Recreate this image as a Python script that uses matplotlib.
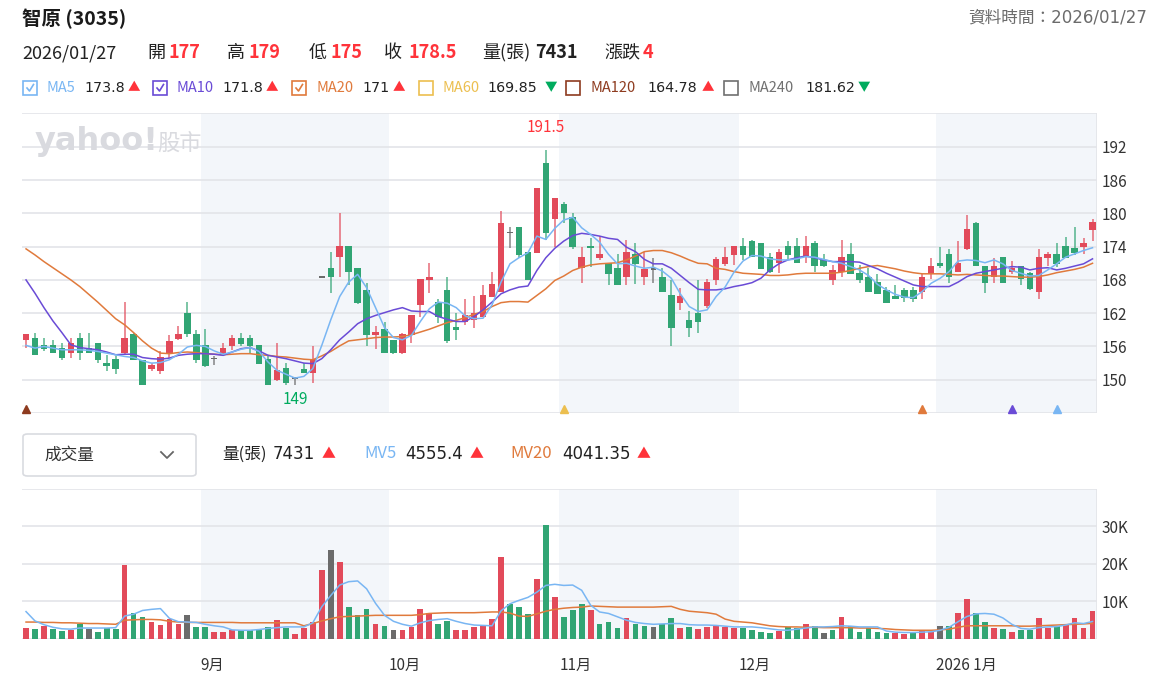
import matplotlib
matplotlib.use("Agg")
import matplotlib.pyplot as plt
import matplotlib.patches as mpatches
from matplotlib.lines import Line2D

plt.rcParams['font.family'] = ['Noto Sans CJK TC', 'DejaVu Sans']
NUM_FONT = ['DejaVu Sans', 'Noto Sans CJK TC']

# ---------------- data ----------------
opens = [157.1, 157.6, 156.2, 156.2, 155.8, 154.9, 157.5, 155.7, 156.6, 153.0,
         153.7, 154.9, 158.3, 153.6, 152.0, 151.5, 154.9, 157.4, 162.0, 158.2,
         156.2, 153.8, 154.6, 156.0, 157.6, 157.6, 156.2, 153.8, 150.0, 152.1,
         150.3, 151.9, 151.2, 168.5, 170.1, 172.1, 174.2, 170.2, 166.1, 158.0,
         159.1, 157.1, 154.8, 158.1, 163.5, 168.0, 164.1, 166.1, 159.5, 160.5,
         160.8, 161.4, 165.0, 165.9, 176.6, 177.6, 173.1, 172.9, 189.1, 179.0,
         181.6, 179.3, 170.1, 174.2, 172.0, 171.0, 170.1, 168.5, 172.6, 168.5,
         170.0, 168.6, 165.2, 163.9, 160.7, 162.0, 163.3, 168.0, 170.9, 172.5,
         174.2, 175.1, 174.6, 172.2, 171.0, 174.2, 174.2, 172.2, 174.6, 171.6,
         168.0, 169.5, 172.7, 169.2, 168.6, 167.7, 166.1, 165.1, 166.1, 166.2,
         165.9, 169.1, 171.0, 172.6, 169.5, 173.5, 178.2, 170.5, 168.5, 172.1,
         169.5, 170.5, 169.3, 165.9, 172.0, 172.6, 174.2, 173.7, 174.0, 177.0]
highs = [158.2, 158.4, 157.6, 157.1, 156.6, 157.6, 158.4, 158.4, 156.6, 154.5,
         154.2, 164.1, 158.4, 153.6, 153.0, 155.1, 158.1, 159.6, 164.1, 159.0,
         159.1, 154.2, 156.6, 158.0, 158.4, 158.0, 156.2, 154.2, 156.6, 153.0,
         150.3, 153.0, 156.0, 168.5, 173.1, 180.1, 174.2, 170.2, 167.5, 159.6,
         160.4, 157.1, 158.4, 161.6, 168.1, 171.1, 164.6, 168.6, 162.0, 164.5,
         165.1, 167.0, 169.4, 180.5, 177.5, 177.6, 173.1, 184.6, 191.5, 182.8,
         182.1, 180.1, 174.0, 175.5, 175.9, 171.0, 172.6, 175.2, 174.6, 173.1,
         171.9, 170.1, 168.0, 166.5, 162.4, 168.0, 168.1, 172.1, 174.0, 174.2,
         175.6, 175.2, 174.7, 172.8, 173.5, 175.1, 175.5, 176.0, 175.0, 172.7,
         170.6, 175.2, 174.6, 170.6, 170.1, 169.1, 166.8, 167.0, 166.5, 166.7,
         169.1, 171.9, 174.0, 173.5, 175.1, 179.7, 178.5, 170.5, 171.9, 172.1,
         171.5, 170.5, 169.5, 173.5, 173.1, 174.6, 175.7, 177.6, 175.5, 179.0]
lows = [155.7, 154.5, 155.1, 154.8, 153.5, 154.0, 153.5, 154.9, 153.1, 151.5,
        151.1, 154.5, 153.5, 149.1, 151.5, 151.1, 154.0, 157.2, 157.7, 153.1,
        152.3, 152.7, 154.2, 155.4, 156.0, 154.8, 152.9, 149.0, 149.7, 149.1,
        149.0, 151.2, 149.5, 168.5, 165.7, 168.6, 167.1, 163.7, 156.0, 155.6,
        154.8, 154.7, 154.7, 156.7, 161.3, 165.7, 160.2, 156.6, 157.2, 159.9,
        159.3, 161.4, 165.0, 165.9, 173.7, 171.9, 168.0, 172.9, 175.2, 174.0,
        178.3, 173.5, 167.5, 170.4, 171.6, 167.1, 167.1, 167.1, 167.3, 167.1,
        167.5, 165.9, 156.0, 162.6, 157.7, 158.5, 162.9, 167.1, 170.5, 170.7,
        171.6, 172.1, 170.0, 169.2, 169.2, 171.7, 171.0, 171.1, 169.5, 170.4,
        167.1, 168.6, 169.1, 167.4, 165.9, 165.5, 163.9, 164.6, 164.1, 164.1,
        164.6, 168.1, 170.2, 167.5, 169.5, 173.4, 170.5, 165.7, 167.5, 167.5,
        169.1, 167.1, 166.2, 164.6, 170.5, 170.4, 172.0, 172.5, 172.7, 175.0]
closes = [158.2, 154.5, 155.6, 154.9, 154.0, 156.6, 154.9, 154.9, 153.5, 152.5,
          152.0, 157.6, 153.6, 149.1, 152.6, 154.1, 157.0, 158.2, 158.2, 153.5,
          152.4, 153.8, 155.7, 157.5, 156.5, 156.0, 152.9, 149.1, 151.7, 149.5,
          150.3, 151.2, 153.7, 168.5, 168.5, 174.2, 169.5, 163.9, 158.1, 158.6,
          154.9, 154.9, 158.2, 161.6, 168.1, 168.6, 161.4, 157.0, 159.0, 161.6,
          162.0, 165.2, 167.3, 178.3, 176.6, 172.5, 168.0, 184.6, 176.5, 182.8,
          180.0, 174.0, 172.2, 173.7, 172.7, 169.1, 167.1, 173.1, 170.9, 170.0,
          170.0, 165.9, 159.4, 165.1, 159.4, 160.5, 167.7, 171.7, 172.2, 174.2,
          172.5, 172.1, 170.0, 169.5, 173.0, 172.5, 171.1, 174.2, 170.5, 170.5,
          169.7, 172.2, 169.1, 168.0, 165.9, 165.5, 163.9, 164.6, 164.7, 164.5,
          168.6, 170.5, 170.5, 168.5, 171.0, 177.1, 170.5, 167.5, 170.5, 167.5,
          170.1, 168.1, 166.3, 172.1, 172.6, 170.9, 172.0, 172.8, 174.6, 178.5]

ma5 = [156.2, 155.7, 156.0, 155.7, 155.4, 155.4, 155.4, 155.3, 155.1, 154.8,
       154.5, 154.2, 154.0, 153.4, 153.0, 153.1, 153.6, 154.6, 155.9, 156.2,
       156.0, 155.2, 154.6, 155.0, 155.5, 155.8, 155.1, 153.2, 151.7, 151.0,
       150.3, 150.6, 152.0, 156.2, 160.8, 165.0, 167.6, 169.0, 166.6, 163.0,
       159.4, 157.6, 157.2, 158.0, 160.5, 162.8, 164.0, 163.8, 163.0, 161.5,
       161.0, 161.1, 163.5, 167.6, 170.9, 172.0, 172.9, 175.9, 175.3, 177.3,
       178.8, 179.3, 177.4, 176.2, 174.8, 172.6, 170.9, 171.0, 170.5, 170.1,
       170.3, 169.6, 168.3, 165.5, 163.2, 162.3, 162.6, 165.0, 166.7, 169.4,
       171.4, 172.4, 172.3, 171.8, 171.6, 171.6, 171.8, 172.2, 172.1, 171.7,
       171.3, 171.0, 170.4, 169.8, 168.8, 167.2, 166.2, 165.4, 164.9, 164.8,
       165.9, 167.4, 168.3, 169.5, 171.4, 171.6, 171.5, 171.1, 171.6, 170.9,
       169.7, 169.2, 168.7, 168.8, 169.8, 170.9, 172.1, 172.7, 173.3, 173.8]
ma10 = [168.0, 165.6, 163.0, 160.6, 158.5, 156.3, 155.8, 155.6, 155.4, 155.0,
        154.5, 154.6, 154.6, 154.0, 153.8, 153.7, 153.9, 154.4, 154.6, 154.7,
        154.7, 154.6, 154.4, 155.0, 155.6, 155.8, 155.2, 154.4, 154.1, 153.8,
        153.4, 153.0, 152.9, 153.8, 155.4, 157.2, 158.6, 160.1, 161.0, 161.6,
        162.1, 162.6, 163.0, 162.4, 162.3, 162.3, 161.4, 160.9, 160.5, 160.5,
        161.4, 162.6, 164.0, 165.5, 166.2, 166.7, 166.9, 169.7, 172.0, 173.7,
        175.0, 176.0, 176.4, 176.2, 175.9, 175.5, 175.3, 173.9, 173.1, 171.7,
        170.9, 170.9, 170.1, 168.8, 167.5, 166.3, 166.2, 166.2, 166.4, 166.8,
        167.1, 167.5, 168.3, 169.8, 170.9, 171.6, 172.0, 172.3, 172.0, 171.6,
        171.3, 171.3, 171.3, 171.2, 170.6, 170.0, 169.2, 168.5, 167.8, 167.1,
        166.8, 166.8, 166.8, 166.8, 167.6, 168.6, 169.2, 169.5, 169.8, 170.1,
        170.4, 170.3, 169.8, 170.1, 170.2, 169.8, 170.1, 170.5, 170.9, 171.8]
ma20 = [173.6, 172.5, 171.3, 170.2, 169.1, 168.0, 166.8, 165.4, 164.0, 162.5,
        161.0, 159.9, 158.5, 157.0, 155.7, 154.8, 154.7, 154.9, 155.0, 154.9,
        154.7, 154.6, 154.5, 154.6, 154.7, 154.7, 154.5, 154.4, 154.2, 154.1,
        153.9, 153.7, 153.6, 154.3, 155.1, 156.1, 157.0, 157.2, 157.4, 157.6,
        157.7, 157.7, 157.8, 158.1, 158.6, 159.1, 159.7, 160.3, 160.7, 161.2,
        161.8, 162.3, 163.2, 163.9, 164.1, 164.1, 164.0, 165.2, 166.4, 167.9,
        168.7, 169.7, 170.3, 170.7, 170.9, 171.0, 171.1, 171.6, 172.3, 173.1,
        173.3, 173.3, 172.9, 172.3, 171.6, 171.0, 170.9, 170.1, 169.9, 169.5,
        169.2, 169.1, 169.0, 168.8, 168.8, 168.9, 169.1, 169.2, 169.2, 169.2,
        169.2, 169.4, 169.7, 170.1, 170.4, 170.6, 170.3, 170.0, 169.6, 169.3,
        169.1, 169.1, 169.1, 169.0, 168.9, 169.0, 168.9, 168.8, 168.7, 168.7,
        168.6, 168.5, 168.5, 168.6, 168.9, 169.3, 169.6, 169.9, 170.3, 171.0]

# volume in thousands of lots (張)
volume = [2.8, 2.5, 3.3, 2.5, 2.0, 2.4, 3.8, 2.5, 1.8, 2.7,
          2.5, 19.6, 6.7, 5.8, 4.4, 3.6, 5.1, 3.8, 6.2, 3.1,
          3.1, 1.8, 1.8, 2.2, 2.2, 2.2, 2.2, 3.1, 4.9, 2.8,
          1.3, 2.8, 4.4, 18.2, 23.6, 20.4, 8.4, 6.2, 7.8, 3.8,
          3.4, 2.4, 2.4, 3.1, 7.8, 6.8, 3.8, 4.7, 2.4, 2.4,
          3.1, 3.3, 5.1, 21.8, 9.3, 8.4, 6.5, 16.0, 30.5, 11.1,
          5.8, 7.7, 9.3, 7.7, 4.0, 4.4, 2.8, 5.5, 3.8, 3.4,
          3.1, 3.8, 5.5, 2.8, 3.1, 2.5, 3.1, 3.7, 3.1, 2.8,
          2.8, 2.2, 1.8, 1.5, 2.0, 3.1, 2.8, 3.8, 3.3, 1.5,
          2.2, 5.8, 3.3, 1.8, 2.7, 1.8, 1.5, 1.5, 1.2, 1.5,
          2.2, 1.8, 3.4, 3.4, 6.8, 10.7, 6.8, 4.4, 2.8, 2.5,
          1.8, 2.2, 2.2, 5.5, 2.8, 3.4, 4.0, 5.5, 2.8, 7.431]
mv5 = [7.2, 4.7, 3.7, 3.0, 2.6, 2.5, 2.8, 2.8, 2.8, 2.8,
       2.9, 6.0, 6.5, 7.5, 7.8, 8.0, 5.4, 4.5, 4.4, 4.3,
       3.8, 3.4, 3.1, 2.3, 2.2, 2.2, 2.4, 2.7, 2.9, 3.1,
       3.1, 3.1, 4.2, 8.5, 11.5, 14.3, 15.2, 15.4, 13.3, 9.4,
       6.2, 4.6, 3.8, 3.3, 4.2, 4.8, 5.1, 5.3, 4.6, 4.0,
       3.6, 3.5, 3.4, 7.4, 9.3, 10.2, 11.0, 12.4, 14.2, 14.5,
       14.2, 14.3, 12.9, 8.9, 7.1, 6.7, 5.8, 4.9, 4.3, 4.0,
       3.8, 3.9, 4.0, 4.0, 3.7, 3.6, 3.6, 3.5, 3.3, 3.1,
       3.1, 3.1, 2.9, 2.6, 2.3, 2.2, 2.5, 2.8, 3.1, 3.1,
       3.2, 3.4, 3.3, 3.1, 3.1, 3.1, 2.0, 1.7, 1.6, 1.6,
       1.7, 1.8, 2.2, 3.0, 4.5, 5.9, 6.6, 6.7, 6.5, 5.5,
       3.8, 2.7, 2.5, 2.9, 3.1, 3.2, 3.6, 4.2, 4.0, 4.5554]
mv20 = [4.4, 4.4, 4.3, 4.3, 4.2, 4.2, 4.1, 4.0, 4.0, 3.9,
        3.8, 4.9, 5.0, 5.1, 5.1, 5.0, 4.6, 4.4, 4.3, 4.3,
        4.3, 4.3, 4.3, 4.3, 4.2, 4.2, 4.2, 4.2, 4.2, 4.2,
        4.2, 3.4, 4.0, 4.7, 5.3, 5.8, 5.9, 6.0, 6.1, 6.2,
        6.2, 6.2, 6.2, 6.2, 6.4, 6.7, 6.8, 6.9, 6.9, 6.9,
        6.9, 7.0, 7.1, 7.1, 6.8, 6.0, 5.9, 6.6, 7.3, 7.8,
        8.1, 8.3, 8.4, 8.7, 8.6, 8.5, 8.4, 8.4, 8.4, 8.4,
        8.4, 8.5, 8.6, 7.8, 7.3, 7.1, 6.9, 6.5, 5.2, 4.6,
        4.4, 4.2, 3.8, 3.4, 3.2, 3.1, 3.1, 3.0, 3.0, 2.9,
        2.9, 2.9, 2.9, 2.8, 2.8, 2.7, 2.6, 2.4, 2.3, 2.2,
        2.2, 2.2, 2.3, 2.5, 3.0, 3.4, 3.4, 3.4, 3.4, 3.4,
        3.4, 3.3, 3.3, 3.4, 3.5, 3.6, 3.7, 3.8, 3.9, 4.04135]

month_labels = ['9月', '10月', '11月', '12月', '2026 1月']
month_start = [20, 41, 60, 80, 102]          # first trading-day index of each month
shaded_months = [(20, 40), (60, 79), (102, 119)]

price_ticks = [150, 156, 162, 168, 174, 180, 186, 192]
vol_ticks = [10, 20, 30]
vol_tick_labels = ['10K', '20K', '30K']

hi_idx, hi_val = 58, 191.5
lo_idx, lo_val = 30, 149
signal_idx = [0, 60, 100, 110, 115]

ma_names = ['MA5', 'MA10', 'MA20', 'MA60', 'MA120', 'MA240']
ma_last = ['173.8', '171.8', '171', '169.85', '164.78', '181.62']
ma_up = [True, True, True, False, True, False]
ma_checked = [True, True, True, False, False, False]

# ---------------- colours ----------------
RED = '#e24a5a'
GREEN = '#31a574'
GREY = '#6b6b6b'
TXT_RED = '#ff333a'
TXT_GREEN = '#00ab5e'
C_MA5 = '#79b6f3'
C_MA10 = '#6a4bd6'
C_MA20 = '#e07a3c'
C_MA60 = '#ecbf4f'
C_MA120 = '#8e3b1f'
C_MA240 = '#707070'
GRID = '#e3e4e9'
BAND = '#f3f6fa'
signal_colors = [C_MA120, C_MA60, C_MA20, C_MA10, C_MA5]
ma_colors = [C_MA5, C_MA10, C_MA20, C_MA60, C_MA120, C_MA240]

W, H = 1161, 676
fig = plt.figure(figsize=(W / 100, H / 100), dpi=100)


def fx(x):
    return x / W


def fy(y):
    return 1 - y / H


def txt(x, y, s, color='#222222', size=12, weight='normal', ha='left', family=None):
    kw = {} if family is None else {'family': family}
    fig.text(fx(x), fy(y), s, color=color, fontsize=size, fontweight=weight,
             ha=ha, va='center', **kw)


ax = fig.add_axes([fx(22), fy(413), fx(1097) - fx(22), fy(113) - fy(413)])
axv = fig.add_axes([fx(22), fy(638.5), fx(1097) - fx(22), fy(489) - fy(638.5)])

n = len(closes)
x = list(range(n))
xlim = (-0.45, 119.5)

for a in (ax, axv):
    for s0, s1 in shaded_months:
        a.axvspan(s0 - 0.5, s1 + 0.5, color=BAND, zorder=0, lw=0)
    a.set_xlim(*xlim)
    for sp in a.spines.values():
        sp.set_visible(False)
    a.set_xticks([])
    a.yaxis.tick_right()
    a.tick_params(axis='y', length=0, labelsize=11, labelcolor='#333333', pad=3)
    a.axvline(xlim[1], color=GRID, lw=1.2, zorder=1)

# ---- price panel ----
ax.set_ylim(144.0, 198.1)
ax.set_yticks(price_ticks)
for p in price_ticks + [144.0, 198.1]:
    ax.axhline(p, color=GRID, lw=1.2, zorder=1)

ax.text(0.012, 0.905, 'yahoo!', transform=ax.transAxes, fontsize=23,
        fontweight='heavy', color='#d9dadf', family='DejaVu Sans',
        va='center', ha='left', zorder=1)
ax.text(0.126, 0.9, '股市', transform=ax.transAxes, fontsize=16,
        color='#d9dadf', va='center', ha='left', zorder=1)

for i in x:
    o, h, l, c = opens[i], highs[i], lows[i], closes[i]
    col = RED if c > o else (GREEN if c < o else GREY)
    ax.vlines(i, l, h, color=col, lw=1.2, alpha=0.75, zorder=3)
    body = abs(c - o)
    if body < 0.2:
        ax.bar(i, 0.25, bottom=c - 0.125, width=0.62, color=col, zorder=4, lw=0)
    else:
        ax.bar(i, body, bottom=min(o, c), width=0.72, color=col, zorder=4, lw=0)

ax.plot(x, ma20, color=C_MA20, lw=1.1, zorder=5)
ax.plot(x, ma10, color=C_MA10, lw=1.1, zorder=5)
ax.plot(x, ma5, color=C_MA5, lw=1.1, zorder=6)

ax.text(hi_idx, 195.4, f'{hi_val}', color=TXT_RED, fontsize=11, ha='center', va='center')
ax.text(lo_idx, 146.4, f'{lo_val}', color=TXT_GREEN, fontsize=11, ha='center', va='center')
for k, sc in zip(signal_idx, signal_colors):
    ax.plot(k, 144.75, marker='^', color=sc, markersize=6, zorder=6, clip_on=False)

# ---- volume panel ----
axv.set_ylim(0, 40)
axv.set_yticks(vol_ticks)
axv.set_yticklabels(vol_tick_labels)
for v in [0, 10, 20, 30, 40]:
    axv.axhline(v, color=GRID, lw=1.2, zorder=1)
for i in x:
    if i == 0:
        col = RED if closes[i] > opens[i] else GREEN
    elif closes[i] > closes[i - 1]:
        col = RED
    elif closes[i] < closes[i - 1]:
        col = GREEN
    else:
        col = GREY
    axv.bar(i, volume[i], width=0.64, color=col, zorder=3, lw=0)
axv.plot(x, mv20, color=C_MA20, lw=1.1, zorder=5)
axv.plot(x, mv5, color=C_MA5, lw=1.1, zorder=6)

xt = axv.get_xaxis_transform()
for lab, st in zip(month_labels, month_start):
    axv.text(st - 0.5, -0.177, lab, transform=xt, fontsize=11, color='#333333',
             ha='left', va='center')

# ---------------- header ----------------
txt(22, 19, '智原 (3035)', color='#1a1a1a', size=14, weight='bold')
txt(1147, 17, '資料時間：2026/01/27', color='#6b6b6b', size=12, ha='right',
    family=NUM_FONT)

row2 = [(22, '2026/01/27', '#222222', 'normal'),
        (147, '開', '#222222', 'normal'), (169, '177', TXT_RED, 'bold'),
        (227, '高', '#222222', 'normal'), (249, '179', TXT_RED, 'bold'),
        (309, '低', '#222222', 'normal'), (330, '175', TXT_RED, 'bold'),
        (384, '收', '#222222', 'normal'), (408, '178.5', TXT_RED, 'bold'),
        (482, '量(張)', '#222222', 'normal'), (535, '7431', '#222222', 'bold'),
        (604, '漲跌', '#222222', 'normal'), (643, '4', TXT_RED, 'bold')]
for xx, s, c, w in row2:
    txt(xx, 53, s, color=c, size=13, weight=w)

# checkbox / label / value / arrow x positions for the MA legend row
box_x = [23, 153, 292, 419, 566, 724]
val_x = [84, 222, 362, 487, 647, 805]
arr_x = [128, 266, 393, 545, 702, 858]
for bx, vx, axx, lab, val, up, col, checked in zip(box_x, val_x, arr_x, ma_names,
                                                   ma_last, ma_up, ma_colors, ma_checked):
    fig.patches.append(mpatches.Rectangle((fx(bx), fy(95)), 14 / W, 14 / H,
                                          transform=fig.transFigure, fill=False,
                                          edgecolor=col, lw=1.2))
    if checked:
        fig.lines.append(Line2D([fx(bx + 4), fx(bx + 6.5), fx(bx + 10.5)],
                                [fy(88), fy(91), fy(84.5)],
                                transform=fig.transFigure, color=col, lw=1.2))
    txt(bx + 24, 88, lab, color=col, size=10.5)
    txt(vx, 88, val, color='#222222', size=10.3, family=NUM_FONT)
    txt(axx, 88, '▲' if up else '▼', color=TXT_RED if up else TXT_GREEN, size=9)

# ---------------- volume header ----------------
box = mpatches.FancyBboxPatch((fx(23), fy(476)), (196 - 23) / W, (476 - 434) / H,
                              boxstyle='round,pad=0,rounding_size=0.004',
                              transform=fig.transFigure, fill=False,
                              edgecolor='#d9dbe0', lw=1.2)
fig.patches.append(box)
txt(44, 455, '成交量', color='#333333', size=12)
fig.lines.append(Line2D([fx(161), fx(167), fx(173)], [fy(452), fy(458), fy(452)],
                        transform=fig.transFigure, color='#666666', lw=1.3))

txt(222, 454, '量(張)', size=12)
txt(273, 454, '7431', size=12, family=NUM_FONT)
txt(322, 454, '▲', color=TXT_RED, size=10)
txt(364, 454, 'MV5', color=C_MA5, size=12)
txt(405, 454, '4555.4', size=12, family=NUM_FONT)
txt(470, 454, '▲', color=TXT_RED, size=10)
txt(510, 454, 'MV20', color=C_MA20, size=12)
txt(562, 454, '4041.35', size=12, family=NUM_FONT)
txt(637, 454, '▲', color=TXT_RED, size=10)

fig.savefig('out.png', dpi=100)
